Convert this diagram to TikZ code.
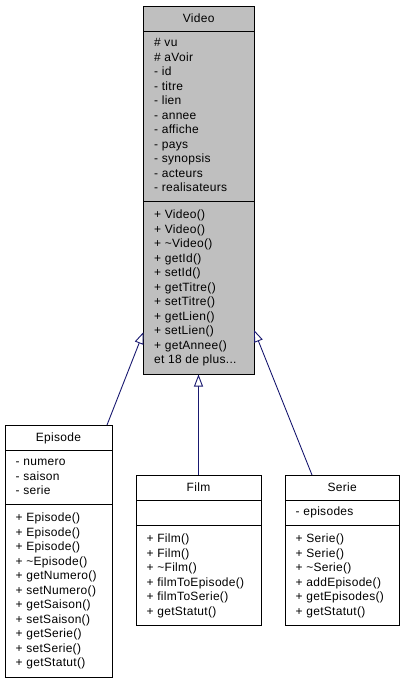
\documentclass[tikz,border=0pt]{standalone}
\usepackage{fontspec}
\setmainfont{Liberation Sans}[LetterSpace=2.5]
\usetikzlibrary{arrows.meta}
\definecolor{edgeblue}{HTML}{191970}
\definecolor{boxgray}{HTML}{BFBFBF}
\newcommand{\tl}{\textasciitilde}
\begin{document}
\begin{tikzpicture}[
  x=1pt, y=-1pt,
  classbox/.style={draw=black, line width=1pt, inner sep=0pt, outer sep=0pt, anchor=north west},
  sepline/.style={draw=black, line width=1pt},
  classtitle/.style={anchor=base, inner sep=0pt, font=\fontsize{12}{14.5}\selectfont},
  members/.style={anchor=base west, inner sep=0pt, font=\fontsize{12}{14.5}\selectfont},
  inherit/.style={draw=edgeblue, line width=0.9pt, -{Triangle[open, length=12pt, width=9pt, fill=white]}},
]
\useasboundingbox (0,0) rectangle (405,683);

% ---------- Video ----------
\node[classbox, fill=boxgray, minimum width=110.5pt, minimum height=368.5pt] (video) at (143.5,6) {};
\draw[sepline] (143.5,31.5) -- (254,31.5);
\draw[sepline] (143.5,201.5) -- (254,201.5);
\node[classtitle] (videoname) at (198.75,22.5) {Video};
\node[members] (videoattr) at (154,46.5) {\parbox[t]{95pt}{\# vu\\\# aVoir\\- id\\- titre\\- lien\\- annee\\- affiche\\- pays\\- synopsis\\- acteurs\\- realisateurs}};
\node[members] (videometh) at (154,218.5) {\parbox[t]{95pt}{+ Video()\\+ Video()\\+ \tl Video()\\+ getId()\\+ setId()\\+ getTitre()\\+ setTitre()\\+ getLien()\\+ setLien()\\+ getAnnee()\\et 18 de plus...}};

% ---------- Episode ----------
\node[classbox, fill=white, minimum width=107pt, minimum height=252.5pt] (episode) at (5,425) {};
\draw[sepline] (5,450.5) -- (112,450.5);
\draw[sepline] (5,504.5) -- (112,504.5);
\node[classtitle] (episodename) at (58.5,441.5) {Episode};
\node[members] (episodeattr) at (15.5,465.5) {\parbox[t]{95pt}{- numero\\- saison\\- serie}};
\node[members] (episodemeth) at (15.5,521.5) {\parbox[t]{95pt}{+ Episode()\\+ Episode()\\+ Episode()\\+ \tl Episode()\\+ getNumero()\\+ setNumero()\\+ getSaison()\\+ setSaison()\\+ getSerie()\\+ setSerie()\\+ getStatut()}};

% ---------- Film ----------
\node[classbox, fill=white, minimum width=125pt, minimum height=150.5pt] (film) at (136,475) {};
\draw[sepline] (136,500.5) -- (261,500.5);
\draw[sepline] (136,525.5) -- (261,525.5);
\node[classtitle] (filmname) at (198.5,491.5) {Film};
\node[members] (filmmeth) at (146.5,542.5) {\parbox[t]{110pt}{+ Film()\\+ Film()\\+ \tl Film()\\+ filmToEpisode()\\+ filmToSerie()\\+ getStatut()}};

% ---------- Serie ----------
\node[classbox, fill=white, minimum width=114.5pt, minimum height=150.5pt] (serie) at (285,475) {};
\draw[sepline] (285,500.5) -- (399.5,500.5);
\draw[sepline] (285,525.5) -- (399.5,525.5);
\node[classtitle] (seriename) at (342.25,491.5) {Serie};
\node[members] (serieattr) at (295.5,515.5) {\parbox[t]{100pt}{- episodes}};
\node[members] (seriemeth) at (295.5,542.5) {\parbox[t]{100pt}{+ Serie()\\+ Serie()\\+ \tl Serie()\\+ addEpisode()\\+ getEpisodes()\\+ getStatut()}};

% ---------- inheritance connectors ----------
\coordinate (epiTop) at (107,425);
\coordinate (vidLeft) at (143.5,332);
\coordinate (filmTop) at (198.5,475);
\coordinate (vidBottom) at (198.5,374.5);
\coordinate (serieTop) at (312,475);
\coordinate (vidRight) at (254,330);
\draw[inherit] (epiTop) -- (vidLeft);
\draw[inherit] (filmTop) -- (vidBottom);
\draw[inherit] (serieTop) -- (vidRight);
\end{tikzpicture}
\end{document}
